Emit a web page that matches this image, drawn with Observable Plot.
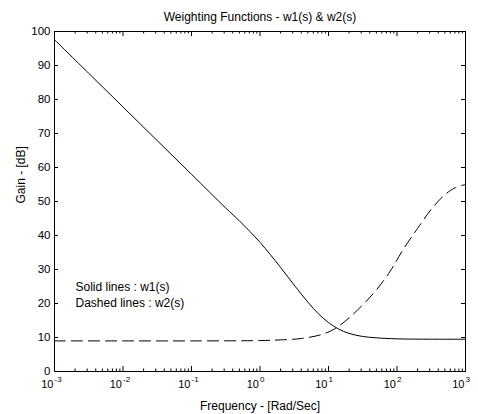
<!DOCTYPE html>
<html><head><meta charset="utf-8">
<script src="https://cdn.jsdelivr.net/npm/d3@7"></script>
<script src="https://cdn.jsdelivr.net/npm/@observablehq/plot@0.6"></script>
<style>body{margin:0;background:#fff} svg{display:block}</style>
</head><body><div id="chart"></div>
<script>
// w1(s): solid line
const w1Freq = [0.001, 0.00316, 0.01, 0.0316, 0.1, 0.316, 0.5, 0.71, 1, 1.41, 2, 3.16, 5, 7.1, 10, 14, 20, 31.6, 50, 100, 316, 1000];
const w1Gain = [97.6, 87.7, 77.8, 67.9, 58.0, 48.1, 44.3, 41.2, 38.0, 34.4, 30.6, 25.4, 20.4, 17.0, 14.4, 12.5, 11.2, 10.3, 9.9, 9.6, 9.5, 9.5];
// w2(s): dashed line
const w2Freq = [0.001, 0.01, 0.1, 1, 2, 4, 8, 12.5, 20, 31.6, 50, 80, 125, 200, 316, 500, 700, 1000];
const w2Gain = [9.0, 9.0, 9.0, 9.1, 9.3, 9.7, 10.9, 12.6, 15.8, 19.6, 24.0, 29.6, 36.1, 42.1, 47.7, 52.0, 54.0, 55.0];

const xMajorTicks = [1e-3, 1e-2, 1e-1, 1, 10, 100, 1000];
const xTickExponents = ["-3", "-2", "-1", "0", "1", "2", "3"];
const xMinorTicks = xMajorTicks.slice(0, -1).flatMap(d => [2,3,4,5,6,7,8,9].map(m => m * d));
const yTicks = [0, 10, 20, 30, 40, 50, 60, 70, 80, 90, 100];

const titleText = "Weighting Functions - w1(s) & w2(s)";
const xLabel = "Frequency - [Rad/Sec]";
const yLabel = "Gain - [dB]";
const notes = ["Solid lines : w1(s)", "Dashed lines : w2(s)"];

const w1 = w1Freq.map((f, i) => ({f, g: w1Gain[i]}));
const w2 = w2Freq.map((f, i) => ({f, g: w2Gain[i]}));
const xTicksData = xMajorTicks.map((v, i) => ({v, e: xTickExponents[i]}));

const W = 478, H = 414, mL = 54, mR = 13, mT = 31, mB = 43;
const innerW = W - mL - mR, innerH = H - mT - mB;
const font = "Liberation Sans, Arial, Helvetica, sans-serif";

const chart = Plot.plot({
  width: W, height: H,
  marginLeft: mL, marginRight: mR, marginTop: mT, marginBottom: mB,
  style: {fontFamily: font, background: "#fff", color: "#000"},
  x: {type: "log", domain: [1e-3, 1e3], axis: null},
  y: {domain: [0, 100], axis: null},
  marks: [
    Plot.frame({stroke: "#000", strokeWidth: 1}),
    // inward ticks
    Plot.ruleX(xMajorTicks, {x: d => d, insetTop: innerH - 5, stroke: "#000"}),
    Plot.ruleX(xMajorTicks, {x: d => d, insetBottom: innerH - 5, stroke: "#000"}),
    Plot.ruleX(xMinorTicks, {x: d => d, insetTop: innerH - 2.5, stroke: "#000"}),
    Plot.ruleX(xMinorTicks, {x: d => d, insetBottom: innerH - 2.5, stroke: "#000"}),
    Plot.ruleY(yTicks, {y: d => d, insetRight: innerW - 4, stroke: "#000"}),
    Plot.ruleY(yTicks, {y: d => d, insetLeft: innerW - 4, stroke: "#000"}),
    // data
    Plot.line(w1, {x: "f", y: "g", stroke: "#000", strokeWidth: 1, curve: "catmull-rom"}),
    Plot.line(w2, {x: "f", y: "g", stroke: "#000", strokeWidth: 1, curve: "catmull-rom", strokeDasharray: "11,6"}),
    // tick labels
    Plot.text(yTicks, {y: d => d, frameAnchor: "left", dx: -4, textAnchor: "end", text: d => String(d), fontSize: 11.5, fill: "#000"}),
    Plot.text(xTicksData, {x: "v", frameAnchor: "bottom", dx: -1, dy: 16, lineAnchor: "bottom", textAnchor: "end", text: () => "10", fontSize: 11, fill: "#000"}),
    Plot.text(xTicksData, {x: "v", frameAnchor: "bottom", dx: 0, dy: 10, lineAnchor: "bottom", textAnchor: "start", text: "e", fontSize: 8, fill: "#000"}),
    // labels
    Plot.text([xLabel], {frameAnchor: "bottom", dy: 38, lineAnchor: "bottom", text: d => d, fontSize: 12, fill: "#000"}),
    Plot.text([titleText], {frameAnchor: "top", dy: -11, lineAnchor: "bottom", text: d => d, fontSize: 12, fill: "#000"}),
    Plot.text([yLabel], {frameAnchor: "left", dx: -30, dy: 2, rotate: -90, lineAnchor: "bottom", text: d => d, fontSize: 12, fill: "#000"}),
    Plot.text(notes, {frameAnchor: "bottom-left", dx: 21, text: d => d, fontSize: 12, fill: "#000", textAnchor: "start", lineAnchor: "bottom", filter: (d, i) => i === 0, dy: -81}),
    Plot.text(notes, {frameAnchor: "bottom-left", dx: 21, text: d => d, fontSize: 12, fill: "#000", textAnchor: "start", lineAnchor: "bottom", filter: (d, i) => i === 1, dy: -65})
  ]
});
document.getElementById("chart").appendChild(chart);
</script>
</body></html>
